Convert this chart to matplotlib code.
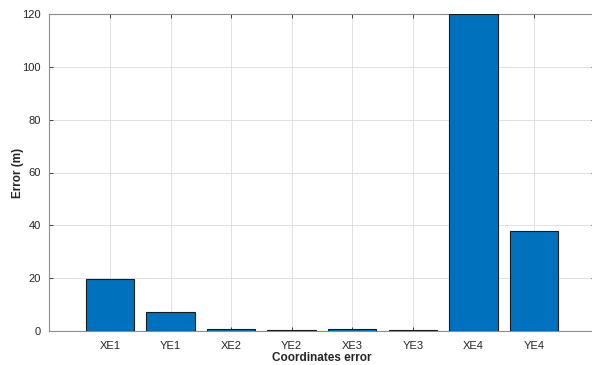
import matplotlib
matplotlib.use('Agg')
import matplotlib.pyplot as plt
import numpy as np

plt.rcParams['font.family'] = ['Liberation Sans', 'DejaVu Sans']

# coordinate errors per point (m)
categories = ['XE1', 'YE1', 'XE2', 'YE2', 'XE3', 'YE3', 'XE4', 'YE4']
errors = [19.8, 7.3, 0.8, 0.3, 0.8, 0.3, 120.0, 37.9]

fig = plt.figure(figsize=(5.92, 3.65), dpi=100)
ax = fig.add_axes([49.4 / 592, 34 / 365, 545.1 / 592, 317 / 365])

x = np.arange(1, len(categories) + 1)
ax.bar(x, errors, width=0.8, color='#0072BD', edgecolor='#1a1a1a',
       linewidth=0.8, zorder=3)

ax.set_xlim(0, 9)
ax.set_ylim(0, 120)
ax.set_xticks(x)
ax.set_xticklabels(categories)
ax.set_yticks(np.arange(0, 121, 20))

ax.grid(True, color='#dcdcdc', linewidth=0.6, zorder=0)
ax.set_axisbelow(True)

ax.tick_params(direction='in', length=3, width=0.6, colors='#262626',
               labelsize=8, top=True, right=True)
ax.tick_params(axis='x', pad=7)
ax.tick_params(axis='y', pad=6)
for s in ax.spines.values():
    s.set_color('#8c8c8c')
    s.set_linewidth(0.8)

ax.set_xlabel('Coordinates error', fontsize=8.5, fontweight='bold',
              color='#262626', labelpad=1)
ax.set_ylabel('Error (m)', fontsize=8.5, fontweight='bold',
              color='#262626', labelpad=-1)

fig.savefig('out.png', dpi=100)
